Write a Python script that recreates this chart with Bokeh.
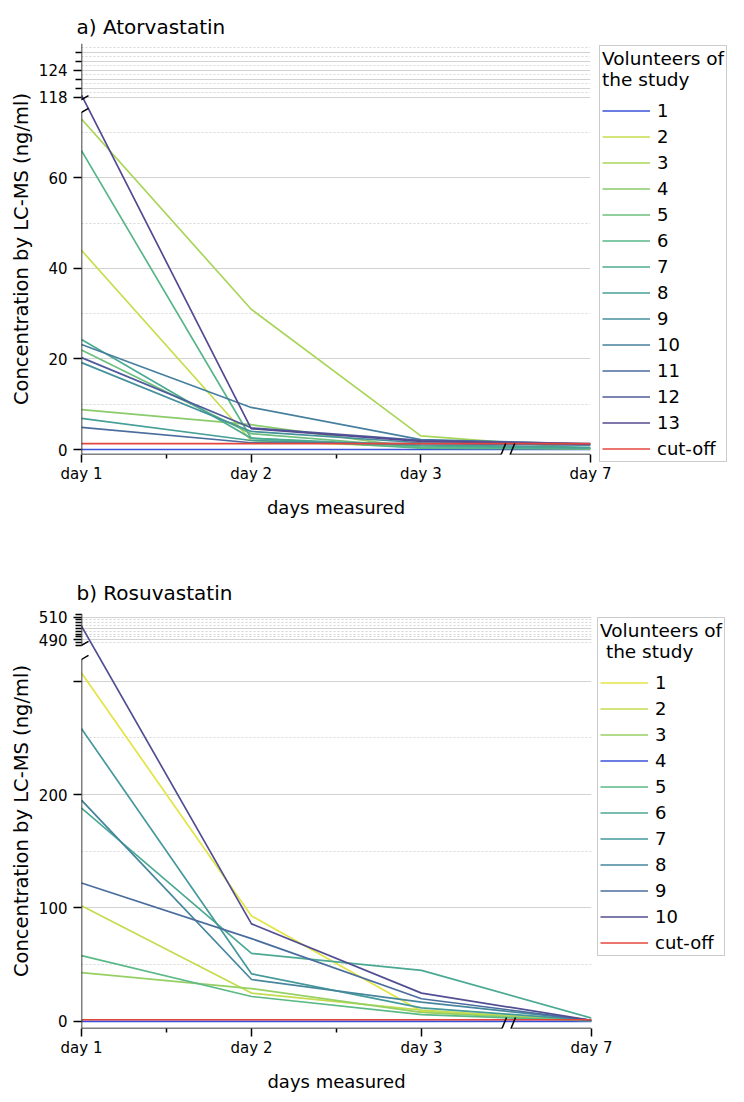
from bokeh.plotting import figure
from bokeh.models import Range1d, FixedTicker, Legend, LegendItem, Arrow
from bokeh.layouts import column
from bokeh.embed import file_html
from bokeh.resources import INLINE

FONT = "DejaVu Sans"

day_labels = ["day 1", "day 2", "day 3", "day 7"]
day_pos = [0, 1, 2, 3]

# ---------------- a) Atorvastatin (ng/ml) ----------------
ator_1 = [0.0, 0.0, 0.0, 0.0]
ator_2 = [44.0, 2.0, 0.5, 0.2]
ator_3 = [73.0, 31.0, 3.0, 0.2]
ator_4 = [8.8, 5.5, 0.3, 0.2]
ator_5 = [22.0, 3.5, 0.5, 0.3]
ator_6 = [66.0, 2.5, 0.3, 0.2]
ator_7 = [24.3, 2.5, 0.8, 0.3]
ator_8 = [6.9, 2.0, 1.0, 0.5]
ator_9 = [19.2, 4.0, 1.5, 1.0]
ator_10 = [23.2, 9.3, 2.2, 1.2]
ator_11 = [4.9, 1.5, 1.3, 1.0]
ator_12 = [20.3, 4.8, 2.0, 1.3]
ator_13 = [118.5, 4.6, 1.8, 1.2]
ator_cutoff = [1.3, 1.3, 1.3, 1.3]
ator_labels = ["1", "2", "3", "4", "5", "6", "7", "8", "9", "10", "11", "12", "13"]
ator_colors = ["#3a50d9", "#c9dd4c", "#a9d65a", "#8acb6b", "#6cc07c", "#58b688",
               "#4cab92", "#47a098", "#44919b", "#46809e", "#4a6d9e", "#4f5b9a", "#534a91"]
ator_major = [0, 20, 40, 60, 118, 124]
ator_minor = [120, 122, 126, 128]
ator_grid = [20, 40, 60, 118, 120, 122, 124, 126, 128]
ator_grid_minor = [10, 30, 50, 70, 119, 121, 123, 125, 127, 129]

# ---------------- b) Rosuvastatin (ng/ml) ----------------
rosu_1 = [307.0, 93.0, 9.0, 0.5]
rosu_2 = [102.0, 25.0, 10.0, 0.5]
rosu_3 = [43.0, 29.0, 8.0, 0.5]
rosu_4 = [0.0, 0.0, 0.0, 0.0]
rosu_5 = [58.0, 22.0, 6.0, 0.5]
rosu_6 = [188.0, 60.0, 45.0, 3.0]
rosu_7 = [258.0, 42.0, 12.0, 1.0]
rosu_8 = [195.0, 37.0, 17.0, 1.0]
rosu_9 = [122.0, 73.0, 20.0, 1.0]
rosu_10 = [502.0, 86.0, 25.0, 1.0]
rosu_cutoff = [1.5, 1.5, 1.5, 1.5]
rosu_labels = ["1", "2", "3", "4", "5", "6", "7", "8", "9", "10"]
rosu_colors = ["#e3e445", "#c3dc4f", "#96d065", "#3a50d9", "#5bb986",
               "#4aa993", "#45999b", "#46879e", "#4b6d9e", "#524e93"]
rosu_major = [0, 100, 200, 300, 490, 510]
rosu_hidden = [300]
rosu_minor = [485, 487.5, 492.5, 495, 497.5, 500, 502.5, 505, 507.5, 512.5]
rosu_grid = [100, 200, 300, 490, 500, 510]
rosu_grid_minor = [50, 150, 250, 487.5, 492.5, 495, 497.5, 502.5, 505, 507.5]

CUT_COLOR = "#e4463e"


def make_panel(title, series, labels, colors, cutoff, major, hidden, minor, grid, grid_minor, cfg):
    ylo, yhi = cfg["yrange"]
    lower_top, offset = cfg["lower_top"], cfg["offset"]

    def disp(v):
        # broken y axis: values above the break are shifted down by the cut-out span
        return v - offset if v > lower_top else v

    p = figure(frame_width=cfg["fw"], frame_height=cfg["fh"],
               x_range=Range1d(0, 3), y_range=Range1d(ylo, yhi),
               output_backend="svg", toolbar_location=None,
               min_border_left=cfg["left"], min_border_top=cfg["top"],
               min_border_bottom=cfg["bottom"], min_border_right=0,
               outline_line_color=None, background_fill_color="white",
               border_fill_color="white")

    p.title.text = title
    p.title.text_font = FONT
    p.title.text_font_size = "20px"
    p.title.text_font_style = "normal"
    p.title.text_color = "black"
    p.title.align = "left"
    p.title.offset = -5
    p.title.standoff = cfg["title_standoff"]

    # grid
    p.xgrid.visible = False
    p.ygrid.ticker = FixedTicker(ticks=[disp(v) for v in grid], minor_ticks=[disp(v) for v in grid_minor])
    p.ygrid.grid_line_color = "#d2d2d2"
    p.ygrid.grid_line_width = 1
    p.ygrid.minor_grid_line_color = "#d6d6d6"
    p.ygrid.minor_grid_line_dash = "2 2"

    # lines
    items = []
    for s, lab, col in zip(series, labels, colors):
        r = p.line(day_pos, [disp(v) for v in s], line_color=col, line_width=1.7)
        items.append(LegendItem(label=lab, renderers=[r]))
    r = p.line(day_pos, [disp(v) for v in cutoff], line_color=CUT_COLOR, line_width=1.7)
    items.append(LegendItem(label="cut-off", renderers=[r]))

    # x axis
    xa = p.xaxis[0]
    xa.ticker = FixedTicker(ticks=day_pos, minor_ticks=[0.5, 1.5])
    xa.major_label_overrides = dict(zip(day_pos, day_labels))
    xa.axis_line_color = None
    xa.axis_label = "days measured"
    # y axis
    ya = p.yaxis[0]
    ya.ticker = FixedTicker(ticks=[disp(v) for v in major], minor_ticks=[disp(v) for v in minor])
    ya.major_label_overrides = {disp(v): ("" if v in hidden else str(v)) for v in major}
    ya.axis_line_color = None
    ya.axis_label = "Concentration by LC-MS (ng/ml)"
    for ax in (xa, ya):
        ax.major_tick_line_color = "black"
        ax.minor_tick_line_color = "black"
        ax.major_tick_line_width = 1.5
        ax.minor_tick_line_width = 1.5
        ax.major_tick_in = 0
        ax.minor_tick_in = 0
        ax.major_tick_out = 8
        ax.minor_tick_out = 4
        ax.major_label_text_font = FONT
        ax.major_label_text_font_size = "15px"
        ax.major_label_text_color = "black"
        ax.axis_label_text_font = FONT
        ax.axis_label_text_font_style = "normal"
        ax.axis_label_text_color = "black"
    ya.minor_tick_out = 6
    xa.major_label_standoff = 2
    xa.axis_label_text_font_size = "18px"
    xa.axis_label_standoff = 11
    ya.major_label_standoff = 6
    ya.axis_label_text_font_size = "19.5px"
    ya.axis_label_standoff = 3

    # axis lines with breaks
    sx = 3.0 / cfg["fw"]
    sy = (yhi - ylo) / cfg["fh"]
    up_bot = cfg["upper_bottom"] - offset
    xb = 2.5
    gap = 4.5 * sx

    def seg(x0, y0, x1, y1):
        p.add_layout(Arrow(end=None, start=None, x_start=x0, y_start=y0, x_end=x1, y_end=y1,
                           line_color="black", line_width=1.5))

    seg(0, ylo, 0, lower_top)
    seg(0, up_bot, 0, yhi)
    seg(0, ylo, xb - gap, ylo)
    seg(xb + gap, ylo, 3, ylo)
    for yc in (lower_top, up_bot):
        seg(-7 * sx, yc - 4 * sy, 7 * sx, yc + 4 * sy)
    for xc in (xb - gap, xb + gap):
        seg(xc - 4.5 * sx, ylo - 11 * sy, xc + 4.5 * sx, ylo + 11 * sy)

    leg = Legend(items=items, location=cfg["legend_loc"], title=cfg["legend_title"])
    leg.margin = 14
    leg.padding = 2
    leg.border_line_color = "#9a9a9a"
    leg.border_line_width = 1
    leg.label_text_font = FONT
    leg.label_text_font_size = "18px"
    leg.label_text_color = "black"
    leg.title_text_font = FONT
    leg.title_text_font_size = "18.5px"
    leg.title_text_font_style = "normal"
    leg.title_text_color = "black"
    leg.title_text_line_height = 1.45
    leg.title_standoff = 10
    leg.glyph_width = 48
    leg.glyph_height = 21
    leg.label_height = 21
    leg.spacing = 5
    leg.label_standoff = 7
    p.add_layout(leg, "right")
    return p


cfg_a = dict(yrange=(-1.1, 89.7), lower_top=74.5, upper_bottom=117.5, offset=40.2,
             fw=509, fh=411, left=77, top=43, bottom=91, title_standoff=10,
             legend_title="Volunteers of\nthe study", legend_loc=(9, -8))
cfg_b = dict(yrange=(-6.2, 359.5), lower_top=319.0, upper_bottom=485.0, offset=153.6,
             fw=510, fh=415, left=81, top=68, bottom=74, title_standoff=17,
             legend_title="Volunteers of\n the study", legend_loc=(6, 72))

pa = make_panel("a) Atorvastatin",
                [ator_1, ator_2, ator_3, ator_4, ator_5, ator_6, ator_7, ator_8, ator_9,
                 ator_10, ator_11, ator_12, ator_13],
                ator_labels, ator_colors, ator_cutoff, ator_major, [], ator_minor,
                ator_grid, ator_grid_minor, cfg_a)
pb = make_panel("b) Rosuvastatin",
                [rosu_1, rosu_2, rosu_3, rosu_4, rosu_5, rosu_6, rosu_7, rosu_8, rosu_9, rosu_10],
                rosu_labels, rosu_colors, rosu_cutoff, rosu_major, rosu_hidden, rosu_minor,
                rosu_grid, rosu_grid_minor, cfg_b)

layout = column(pa, pb, spacing=0)
open("out.html", "w").write(file_html(layout, INLINE))
